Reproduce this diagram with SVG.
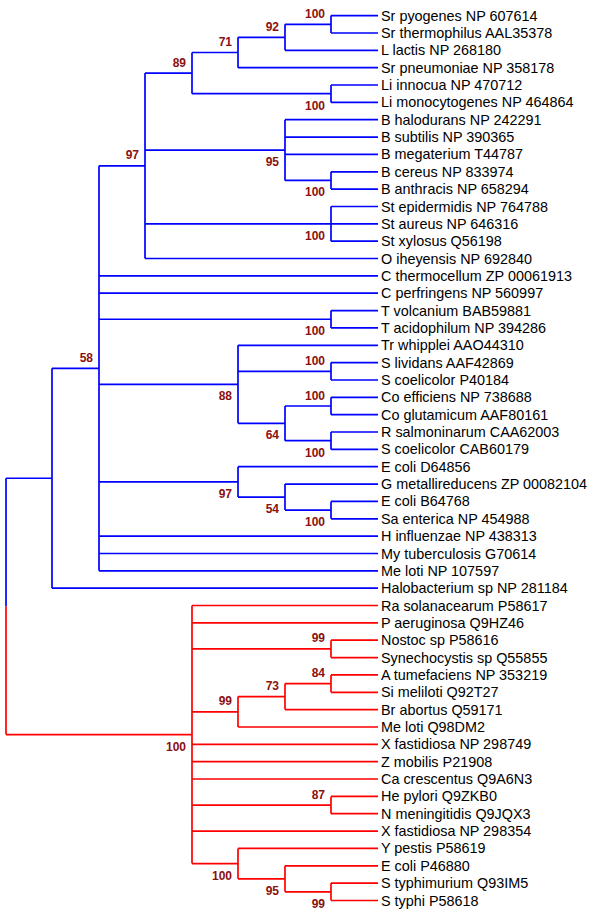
<svg xmlns="http://www.w3.org/2000/svg" width="600" height="916" viewBox="0 0 600 916">
<style>
.b{stroke:#0000ff;stroke-width:1.7;fill:none}
.r{stroke:#ff0000;stroke-width:1.7;fill:none}
.leaf text{font-family:"Liberation Sans",Arial,sans-serif;font-size:14.4px;fill:#000}
.bs text{font-family:"Liberation Sans",Arial,sans-serif;font-size:12px;font-weight:bold;fill:#8b1010;text-anchor:end}
</style>
<rect width="600" height="916" fill="#fff"/>
<g id="connectors">
<path class="b" d="M331 15.6V33M331 15.6H378M331 33H378
M285 24.3V50.3M285 24.3H331M285 50.3H378
M238 37.3V67.7M238 37.3H285M238 67.7H378
M331 85V102.4M331 85H378M331 102.4H378
M192 52.5V93.7M192 52.5H238M192 93.7H331
M331 171.8V189.1M331 171.8H378M331 189.1H378
M285 119.7V180.45M285 119.7H378M285 137.1H378M285 154.4H378M285 180.45H331
M331 206.5V241.2M331 206.5H378M331 223.8H378M331 241.2H378
M145 73.1V258.5M145 73.1H192M145 150.1H285M145 223.8H331M145 258.5H378
M331 310.6V327.9M331 310.6H378M331 327.9H378
M331 362.6V380M331 362.6H378M331 380H378
M331 397.3V414.7M331 397.3H378M331 414.7H378
M331 432V449.4M331 432H378M331 449.4H378
M285 406V440.7M285 406H331M285 440.7H331
M238 345.3V423.35M238 345.3H378M238 371.3H331M238 423.35H285
M331 501.4V518.8M331 501.4H378M331 518.8H378
M285 484.1V510.1M285 484.1H378M285 510.1H331
M238 466.7V497.1M238 466.7H378M238 497.1H285
M99 165.8V570.8M99 165.8H145M99 275.9H378M99 293.2H378M99 319.25H331M99 384.3H238M99 481.9H238M99 536.1H378M99 553.5H378M99 570.8H378
M52 368.3V588.2M52 368.3H99M52 588.2H378
M6 478.25V606.4M6 478.25H52"/>
<path class="r" d="M6 606.4V734.55M6 734.55H192
M331 640.2V657.6M331 640.2H378M331 657.6H378
M331 674.9V692.3M331 674.9H378M331 692.3H378
M285 683.6V709.6M285 683.6H331M285 709.6H378
M238 696.6V727M238 696.6H285M238 727H378
M331 796.4V813.7M331 796.4H378M331 813.7H378
M331 883.1V900.5M331 883.1H378M331 900.5H378
M285 865.8V891.8M285 865.8H378M285 891.8H331
M238 848.4V878.8M238 848.4H378M238 878.8H285
M192 605.5V863.6M192 605.5H378M192 622.9H378M192 648.9H331M192 711.8H238M192 744.3H378M192 761.7H378M192 779H378M192 805.05H331M192 831.1H378M192 863.6H238"/>
</g>
<g class="bs">
<g id="n-a"><text x="325" y="17.8">100</text></g>
<g id="n-b"><text x="279" y="30.8">92</text></g>
<g id="n-c"><text x="232" y="46">71</text></g>
<g id="n-d"><text x="325" y="109.7">100</text></g>
<g id="n-e"><text x="186" y="66.6">89</text></g>
<g id="n-f"><text x="325" y="196.45">100</text></g>
<g id="n-g"><text x="279" y="166.1">95</text></g>
<g id="n-h"><text x="325" y="239.8">100</text></g>
<g id="n-i"><text x="139" y="159.3">97</text></g>
<g id="n-j"><text x="325" y="335.25">100</text></g>
<g id="n-k"><text x="325" y="364.8">100</text></g>
<g id="n-l"><text x="325" y="399.5">100</text></g>
<g id="n-m"><text x="325" y="456.7">100</text></g>
<g id="n-n"><text x="279" y="439.35">64</text></g>
<g id="n-o"><text x="232" y="400.3">88</text></g>
<g id="n-p"><text x="325" y="526.1">100</text></g>
<g id="n-q"><text x="279" y="513.1">54</text></g>
<g id="n-r"><text x="232" y="497.9">97</text></g>
<g id="n-s"><text x="93" y="361.8">58</text></g>
<g id="r-1"><text x="325" y="642.4">99</text></g>
<g id="r-2"><text x="325" y="677.1">84</text></g>
<g id="r-3"><text x="279" y="690.1">73</text></g>
<g id="r-4"><text x="232" y="705.3">99</text></g>
<g id="r-5"><text x="325" y="798.55">87</text></g>
<g id="r-6"><text x="325" y="907.8">99</text></g>
<g id="r-7"><text x="279" y="894.8">95</text></g>
<g id="r-8"><text x="232" y="879.6">100</text></g>
<g id="r-9"><text x="186" y="750.55">100</text></g>
</g>
<g class="leaf">
<g id="l0"><text x="381" y="20.6">Sr pyogenes NP 607614</text></g>
<g id="l1"><text x="381" y="38">Sr thermophilus AAL35378</text></g>
<g id="l2"><text x="381" y="55.3">L lactis NP 268180</text></g>
<g id="l3"><text x="381" y="72.7">Sr pneumoniae NP 358178</text></g>
<g id="l4"><text x="381" y="90">Li innocua NP 470712</text></g>
<g id="l5"><text x="381" y="107.4">Li monocytogenes NP 464864</text></g>
<g id="l6"><text x="381" y="124.7">B halodurans NP 242291</text></g>
<g id="l7"><text x="381" y="142.1">B subtilis NP 390365</text></g>
<g id="l8"><text x="381" y="159.4">B megaterium T44787</text></g>
<g id="l9"><text x="381" y="176.8">B cereus NP 833974</text></g>
<g id="l10"><text x="381" y="194.1">B anthracis NP 658294</text></g>
<g id="l11"><text x="381" y="211.5">St epidermidis NP 764788</text></g>
<g id="l12"><text x="381" y="228.8">St aureus NP 646316</text></g>
<g id="l13"><text x="381" y="246.2">St xylosus Q56198</text></g>
<g id="l14"><text x="381" y="263.5">O iheyensis NP 692840</text></g>
<g id="l15"><text x="381" y="280.9">C thermocellum ZP 00061913</text></g>
<g id="l16"><text x="381" y="298.2">C perfringens NP 560997</text></g>
<g id="l17"><text x="381" y="315.6">T volcanium BAB59881</text></g>
<g id="l18"><text x="381" y="332.9">T acidophilum NP 394286</text></g>
<g id="l19"><text x="381" y="350.3">Tr whipplei AAO44310</text></g>
<g id="l20"><text x="381" y="367.6">S lividans AAF42869</text></g>
<g id="l21"><text x="381" y="385">S coelicolor P40184</text></g>
<g id="l22"><text x="381" y="402.3">Co efficiens NP 738688</text></g>
<g id="l23"><text x="381" y="419.7">Co glutamicum AAF80161</text></g>
<g id="l24"><text x="381" y="437">R salmoninarum CAA62003</text></g>
<g id="l25"><text x="381" y="454.4">S coelicolor CAB60179</text></g>
<g id="l26"><text x="381" y="471.7">E coli D64856</text></g>
<g id="l27"><text x="381" y="489.1">G metallireducens ZP 00082104</text></g>
<g id="l28"><text x="381" y="506.4">E coli B64768</text></g>
<g id="l29"><text x="381" y="523.8">Sa enterica NP 454988</text></g>
<g id="l30"><text x="381" y="541.1">H influenzae NP 438313</text></g>
<g id="l31"><text x="381" y="558.5">My tuberculosis G70614</text></g>
<g id="l32"><text x="381" y="575.8">Me loti NP 107597</text></g>
<g id="l33"><text x="381" y="593.2">Halobacterium sp NP 281184</text></g>
<g id="l34"><text x="381" y="610.5">Ra solanacearum P58617</text></g>
<g id="l35"><text x="381" y="627.9">P aeruginosa Q9HZ46</text></g>
<g id="l36"><text x="381" y="645.2">Nostoc sp P58616</text></g>
<g id="l37"><text x="381" y="662.6">Synechocystis sp Q55855</text></g>
<g id="l38"><text x="381" y="679.9">A tumefaciens NP 353219</text></g>
<g id="l39"><text x="381" y="697.3">Si meliloti Q92T27</text></g>
<g id="l40"><text x="381" y="714.6">Br abortus Q59171</text></g>
<g id="l41"><text x="381" y="732">Me loti Q98DM2</text></g>
<g id="l42"><text x="381" y="749.3">X fastidiosa NP 298749</text></g>
<g id="l43"><text x="381" y="766.7">Z mobilis P21908</text></g>
<g id="l44"><text x="381" y="784">Ca crescentus Q9A6N3</text></g>
<g id="l45"><text x="381" y="801.4">He pylori Q9ZKB0</text></g>
<g id="l46"><text x="381" y="818.7">N meningitidis Q9JQX3</text></g>
<g id="l47"><text x="381" y="836.1">X fastidiosa NP 298354</text></g>
<g id="l48"><text x="381" y="853.4">Y pestis P58619</text></g>
<g id="l49"><text x="381" y="870.8">E coli P46880</text></g>
<g id="l50"><text x="381" y="888.1">S typhimurium Q93IM5</text></g>
<g id="l51"><text x="381" y="905.5">S typhi P58618</text></g>
</g>
</svg>
